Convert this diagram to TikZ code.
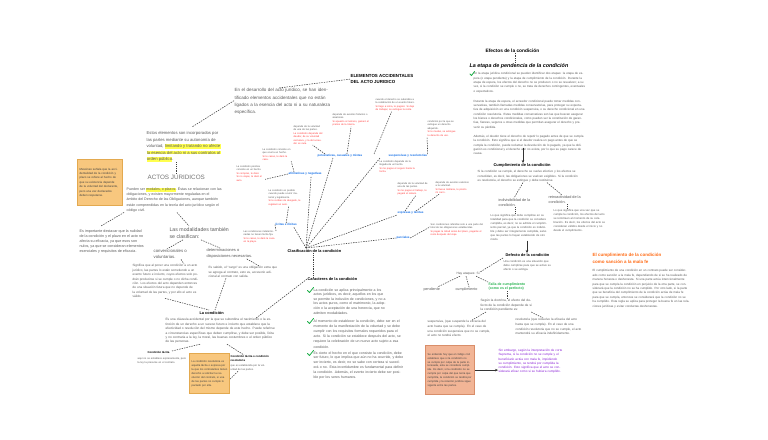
\documentclass[tikz,border=0pt]{standalone}
\usepackage{fontspec}
\setmainfont{Liberation Sans}
\usetikzlibrary{arrows.meta,calc}
\definecolor{txt}{HTML}{5A5A5A}
\definecolor{rd}{HTML}{FF3B3B}
\definecolor{bl}{HTML}{1A73E8}
\definecolor{hly}{HTML}{FFFF4F}
\definecolor{grn}{HTML}{22B14C}
\definecolor{org}{HTML}{FF6A13}
\definecolor{pur}{HTML}{8A1FD6}
\definecolor{note}{HTML}{F8C77E}
\definecolor{noteb}{HTML}{E3A94F}
\definecolor{salm}{HTML}{F2B596}
\definecolor{salmb}{HTML}{D98E6A}
\newcommand\fs[2]{\fontsize{#1}{#2}\selectfont}
\newcommand\hy[1]{{\setlength{\fboxsep}{0.3pt}\colorbox{hly}{#1}}}
\tikzset{
  base/.style={inner sep=0pt, outer sep=0.6pt, anchor=north west, align=left},
  para/.style={base, text=txt},
  sp/.style={base, text=txt, font=\fs{2.5}{3.4}},
  blab/.style={base, text=bl, font=\bfseries\fs{3}{4}},
  head/.style={base, text=black, font=\bfseries\fs{3.9}{5}},
  dl/.style={draw=black!75, line width=0.55pt, dash pattern=on 1.4pt off 1.1pt},
  dt/.style={draw=black!75, line width=0.55pt, dash pattern=on 0.9pt off 0.9pt},
  arr/.style={draw=black!80, line width=0.6pt, -{Stealth[length=3pt,width=2.6pt]}},
  chk/.style={draw=grn, line width=0.8pt, line cap=round, line join=round},
  notebox/.style={base, fill=note, draw=noteb, line width=0.3pt, inner sep=2pt, text=black!75}
}
\begin{document}
\begin{tikzpicture}[x=1pt,y=-1pt]
\fill[white] (0,0) rectangle (768,439);
\useasboundingbox (0,0) rectangle (768,439);

% ---------------- left / top-left ----------------
\node[base, font=\bfseries\fs{4.4}{6}] (elem) at (350,74) {ELEMENTOS ACCIDENTALES\\DEL ACTO JURIDICO};
\node[para, font=\fs{4.5}{7.3}, text width=96] (desa) at (234,88) {En el desarrollo del acto jurídico, se han identificado elementos accidentales que no están ligados a la esencia del acto ni a su naturaleza específica.};
\node[para, font=\fs{4.2}{6.5}] (estos) at (146,131) {Estos elementos son incorporados por\\las partes mediante su autonomía de\\voluntad, \hy{limitando y tratando no afecte}\\\hy{la esencia del acto ni a sus contratos al}\\\hy{orden público}.};
\node[base, text=black!55, font=\fs{6.3}{7}] (actos) at (147,174) {ACTOS JURIDICOS};
\node[notebox, text width=41, minimum height=46, font=\fs{2.9}{4.4}] (nota) at (77,159) {Messineo señala que la accidentalidad de la condición y plazo se refiere al hecho de que su existencia depende de la voluntad del declarante, pero una vez declarados deben respetarse.};
\node[para, font=\fs{3.6}{5.1}] (pueden) at (126,187) {Pueden ser \hy{modales, o plazos}. Éstas se relacionan con las\\obligaciones, y existen mayormente reguladas en el\\ámbito del Derecho de las Obligaciones, aunque también\\están comprendidas en la teoría del acto jurídico según el\\código civil.};
\node[para, font=\fs{3.7}{5.1}] (impo) at (79,229) {Es importante destacar que la nulidad\\de la condición y el plazo en el acto no\\afecta su eficacia, ya que esos son\\nulos, ya que se consideran elementos\\esenciales y requisitos de eficacia.};
\node[para, font=\fs{5.2}{6.8}] (modal) at (169,227) {Las modalidades también\\se clasifican:};
\node[para, font=\fs{4.3}{6}] (conv) at (153,249) {convencionales o\\voluntarias.};
\node[para, font=\fs{4.0}{6}] (deter) at (206,248) {determinaciones o\\disposiciones necesarias.};
\node[para, font=\fs{3.1}{4.4}, text width=68] (sign) at (132,264) {Significa que al poner una condición a un acto jurídico, las partes lo están sometiendo a un evento futuro e incierto, cuyos efectos solo podrán producirse si se cumple o no dicha condición. Los efectos del acto dependen entonces de una situación futura que no depende de la voluntad de las partes, y por ello el acto es válido.};
\node[para, font=\fs{3.1}{4.4}, text width=70] (sabido) at (208,266) {Es sabido, el ``cargo'' es una obligación extra que se agrega al contrato, esto es, accesorio adicional al contrato con salida.};
\node[head] (lacond) at (199,311) {La condición};
\node[para, font=\fs{3.2}{4.4}, text width=110] (lacp) at (165,318) {Es una cláusula accidental por la que se subordina el nacimiento o la extinción de un derecho a un suceso futuro e incierto que establece que la efectividad o resolución del mismo depende de este hecho. Puede referirse a circunstancias específicas que deben cumplirse, y debe ser posible, lícita y no contraria a la ley, la moral, las buenas costumbres o el orden público de las personas.};
\node[base, font=\bfseries\fs{2.8}{3.8}] (tac) at (147,351) {Condición tácita};
\node[para, font=\fs{2.6}{3.6}, text width=50] (tacd) at (137,357) {aquí no se establece expresamente, pero la ley la presume en el contrato.};
\node[notebox, text width=36, minimum height=40, font=\fs{2.7}{4}] (nota2) at (189,353) {La condición resolutoria es aquella tácita o expresa por la que los contratantes tienen derecho a solicitar la resolución del contrato, si una de las partes no cumple lo pactado por ella.};
\node[base, font=\bfseries\fs{2.8}{3.8}] (reso) at (230,355) {Condición tácita o condición\\resolutoria};
\node[para, font=\fs{2.6}{3.6}, text width=36] (resod) at (230,364) {que es establecida por la voluntad de las partes.};

\draw[dl] (elem.west) -- ([xshift=-4]desa.north);
\draw[dl] ([yshift=1]desa.west) -- ([shift={(46,-4)}]estos.north west);
\draw[dt] ([xshift=30]estos.south west) -- ([xshift=29]actos.north west);
\draw[dl] ([shift={(-2,0)}]pueden.south west) -- ([shift={(22,-3)}]impo.north west);
\draw[dl] ([xshift=51]pueden.south west) -- ([shift={(20,-1)}]modal.north west);
\draw[dl] ([shift={(14,1)}]modal.south west) -- ([xshift=14]conv.north west);
\draw[dl] ([shift={(32,1)}]modal.south west) -- ([xshift=14]deter.north west);
\draw[dl] ([xshift=28]conv.south west) -- ([xshift=52]sign.north west);
\draw[dl] ([xshift=-6]deter.south east) -- ([xshift=-20]sabido.north east);
\draw[dl] ([xshift=33]sign.south west) -- ([shift={(10,-1)}]lacond.north west);
\draw[dl] ([xshift=18]sabido.south west) -- ([shift={(16,-1)}]lacond.north west);
\draw[dl] ([xshift=35]lacp.south west) -- ([xshift=25]tac.north west);
\draw[dl] ([xshift=62]lacp.south west) -- ([xshift=14]reso.north west);
\draw[dl] ([xshift=8]resod.south west) -- (nota2.east |- 0,379);

% ---------------- centre: clasificación ----------------
\node[base, font=\bfseries\fs{3.9}{5}] (clas) at (287,249) {Clasificación de la condición};
\coordinate (hub) at (306,248);

\node[blab] (LA) at (288,172) {afirmativas y negativas};
\node[blab] (LB) at (317,154) {potestativas, casuales y mixtas};
\node[blab] (LC) at (388,154) {suspensivas y resolutorias};
\node[blab] (LD) at (275,223) {lícitas e ilícitas};
\node[blab] (LE) at (397,211) {expresas y tácitas};
\node[blab] (LF) at (396,236) {parciales};

\node[sp, text width=30] (PA) at (293,125) {depende de la voluntad de una de las partes.\\\textcolor{rd}{La condición depende del deudor, de su voluntad exclusiva, y la del acreedor es nula.}};
\node[sp, text width=37] (PB) at (332,113) {depende de eventos fortuitos o aleatorios.\\\textcolor{rd}{Si apuesto al número, ganaré el premio de la lotería.}};
\node[sp, text width=40] (PC) at (375,98) {cuando el derecho se subordina a la celebración de un evento futuro.\\\textcolor{rd}{Si llego a Lima, te pagaré. Si dejo de trabajar, se extingue la renta.}};
\node[sp, text width=30] (PC2) at (427,120) {condición por la que se extingue un derecho adquirido.\\\textcolor{rd}{Si te mudas, se extingue tu derecho de uso.}};
\node[sp, text width=36] (PD) at (379,160) {La condición depende de la llegada de un hecho.\\\textcolor{rd}{Si me pagas el seguro hasta la fecha.}};
\node[sp, text width=28] (PE) at (236,165) {La condición positiva consiste en un hecho.\\\textcolor{rd}{Si compras, te daré. Si no viajas, te daré el auto.}};
\node[sp, text width=28] (PF) at (262,148) {La condición consiste en que ocurra un hecho.\\\textcolor{rd}{Si te casas, te daré la casa.}};
\node[sp, text width=32] (PG) at (397,182) {depende de la voluntad de una de las partes.\\\textcolor{rd}{Si me pagas el trabajo, te pagaré el salario.}};
\node[sp, text width=34] (PH) at (435,181) {depende de eventos externos a la voluntad.\\\textcolor{rd}{Si llueve mañana, te presto mi carro.}};
\node[sp, text width=56] (PI) at (430,223) {Son condiciones referidas solo a una parte del total de las obligaciones establecidas.\\\textcolor{rd}{Si pagas la mitad antes del plazo, pagarás el resto después del viaje.}};
\node[sp, text width=32] (PJ) at (268,189) {La condición es posible cuando puede ocurrir material y legalmente.\\\textcolor{rd}{Si te recibes de abogado, te regalaré un auto.}};
\node[sp, text width=32] (PK) at (243,230) {Las condiciones indeterminadas no tienen fecha fija.\\\textcolor{rd}{Si te casas, te daré la casa en la playa.}};

\draw[dl] (hub) -- ([xshift=6]LA.south);
\draw[dl] (hub) -- ([xshift=16]LB.south west);
\draw[dl] (hub) -- ([xshift=-8]LC.south west);
\draw[dl] (hub) -- ([xshift=-4]LD.south east);
\draw[dl] (hub) -- (LE.south west);
\draw[dl] (hub) -- (LF.west);
\draw[dl] (LA.west) -- ([yshift=-6]PE.east);
\draw[dl] ([xshift=6]LA.north west) -- (PF.south east);
\draw[dl] ([xshift=8]LB.north west) -- ([xshift=4]PA.south);
\draw[dl] ([xshift=-16]LB.north east) -- (PB.south);
\draw[dl] ([xshift=-14]LC.north west) -- ([xshift=-4]PC.south);
\draw[dl] (LC.north east) -- (PC2.south west);
\draw[dl] ([xshift=8]LE.north west) -- ([xshift=2]PG.south);
\draw[dl] ([xshift=-8]LE.north east) -- ([xshift=4]PH.south west);
\draw[dl] (LF.east) -- ([yshift=3]PI.west);
\draw[dl] (LD.north) -- ([xshift=4]PJ.south);
\draw[dl] (LD.west) -- ([yshift=-2]PK.north east);

% ---------------- caracteres ----------------
\node[head] (carac) at (307,277) {Caracteres de la condición};
\draw[dt] ([xshift=26]clas.south west) -- ([xshift=6]carac.north west);
\draw[dl] (carac.west) -- ([xshift=-20]lacp.north east);
\node[para, font=\fs{3.5}{4.6}, text width=73] (c1) at (313,288) {La condición se aplica principalmente a los actos jurídicos, es decir, aquellos en los que se permite la inclusión de condiciones, y no a los actos puros, como el matrimonio, la adopción o la aceptación de una herencia, que no admiten modalidades.};
\node[para, font=\fs{3.5}{5.2}, text width=92] (c2) at (313,319) {Al momento de establecer la condición, debe ser en el momento de la manifestación de la voluntad y se debe cumplir con los requisitos formales requeridos para el acto. Si la condición se establece después del acto, se requiere la celebración de un nuevo acto sujeto a esa condición.};
\node[para, font=\fs{3.5}{4.8}, text width=90] (c3) at (313,351) {Es cierto el hecho en el que consiste la condición, debe ser futuro, lo que implica que aún no ha ocurrido, y debe ser incierto, es decir, no se sabe con certeza si sucederá o no. Esta incertidumbre es fundamental para definir la condición. Además, el evento incierto debe ser posible por los seres humanos.};
\draw[chk] (307.5,290.5) -- (309.5,292.5) -- (313.5,287.5);
\draw[chk] (307.5,321.5) -- (309.5,323.5) -- (313.5,318.5);
\draw[chk] (307.5,353.5) -- (309.5,355.5) -- (313.5,350.5);

% ---------------- efectos ----------------
\node[base, font=\bfseries\fs{4.8}{6}] (efec) at (485,48) {Efectos de la condición};
\node[base, font=\bfseries\itshape\fs{5.4}{6.5}] (etapa) at (469,63) {La etapa de pendencia de la condición};
\draw[dt] ([xshift=30]efec.south west) -- ([xshift=46]etapa.north west);
\node[para, font=\fs{3}{4.3}, text width=112] (etp) at (473,72) {En la etapa jurídica condicional se pueden identificar dos etapas: la etapa de espera (o etapa pendiente) y la etapa de cumplimiento de la condición. Durante la etapa de espera, los efectos del derecho no se producen o no se resuelven; a su vez, si la condición se cumple o no, se trata de derechos contingentes, eventuales o expectativos.\par\vspace{6pt}
Durante la etapa de espera, el acreedor condicional puede tomar medidas conservativas, también llamadas medidas conservatorias, para proteger su expectativa de adquisición en una condición suspensiva, o su derecho condicional en una condición resolutoria. Estas medidas conservativas son las que buscan asegurar los bienes o derechos condicionales, como pueden ser la constitución de garantías, fianzas, seguros u otras medidas que permitan asegurar el derecho y prevenir su pérdida.\par\vspace{5pt}
Además, el deudor tiene el derecho de repetir lo pagado antes de que se cumpla la condición. Esto significa que si el deudor realiza un pago antes de que se cumpla la condición, puede reclamar la devolución de lo pagado, ya que la obligación es condicional y el derecho aún no existe, por lo que su pago carece de causa.};
\draw[chk] (470,74) -- (471.5,75.5) -- (474.5,71.5);

\node[base, font=\bfseries\fs{4}{5}] (cump) at (493,163) {Cumplimiento de la condición};
\draw[arr] (523,148) -- ([xshift=30]cump.north west);
\node[para, font=\fs{3}{4.3}, text width=103] (cumpp) at (477,170) {Si la condición se cumple, el derecho se vuelve efectivo y los efectos se consolidan, es decir, las obligaciones se vuelven exigibles. Si la condición es resolutoria, el derecho se extingue y debe restituirse.};
\node[para, font=\fs{3.8}{5.2}] (indiv) at (498,198) {indivisibilidad de la\\condición.};
\node[para, font=\fs{2.8}{3.9}, text width=57] (indp) at (490,214) {Lo que significa que debe cumplirse en su totalidad para que la condición se considere cumplida, es decir, no se admite el cumplimiento parcial, ya que la condición es indivisible y debe ser íntegramente cumplida, salvo que las partes lo hayan establecido de otro modo.};
\node[para, font=\fs{3.8}{5.2}] (retro) at (548,195) {retroactividad de la\\condición.};
\node[para, font=\fs{2.8}{3.9}, text width=52] (retp) at (553,209) {Lo que significa que una vez que se cumple la condición, los efectos del acto se retrotraen al momento de su celebración. Es decir, los efectos del acto se consideran válidos desde el inicio y no desde el cumplimiento.};
\draw[dl] ([xshift=46]cumpp.south west) -- ([xshift=16]indiv.north west);
\draw[dl] ([xshift=70]cumpp.south west) -- ([xshift=14]retro.north west);
\draw[dt] ([xshift=17]indiv.south west) -- ([xshift=25]indp.north west);
\draw[dt] ([xshift=19]retro.south west) -- ([xshift=14]retp.north west);

\node[base, font=\bfseries\fs{3.9}{5}] (defe) at (505,253) {Defecto de la condición};
\draw[arr] ([xshift=37]indp.south west) -- ([xshift=22]defe.north west);
\node[para, font=\fs{2.8}{3.8}, text width=50] (defp) at (503,260) {Una condición es una situación que debe cumplirse para que se active su efecto o se extinga.};
\node[para, font=\fs{3.2}{4}] (hay) at (456,272) {Hay ataques: Si};
\node[para, font=\fs{3.7}{4.5}] (pend) at (423,287) {pendiente};
\node[para, font=\fs{3.7}{4.5}] (cumpl) at (455,287) {cumplimiento};
\node[base, text=grn, font=\bfseries\fs{3.5}{4.6}] (falla) at (488,282) {Falla de cumplimiento\\(como es el perfecto)};
\node[para, font=\fs{3.2}{4.4}, text width=54] (segun) at (480,299) {Según la doctrina, el efecto del defecto de la condición depende de si la condición pendiente es:};
\node[para, font=\fs{3.1}{4.6}, text width=64] (susp) at (427,320) {suspensiva, (que suspende la eficacia del acto hasta que se cumpla). En el caso de una condición suspensiva que no se cumple, el acto no tendrá efecto.};
\node[para, font=\fs{3.1}{4.6}, text width=66] (resol) at (515,318) {resolutoria (que resuelve la eficacia del acto hasta que se cumpla). En el caso de una condición resolutoria que no se cumple, el acto mantendrá su eficacia indefinidamente.};
\draw[dl] ([yshift=2]defp.north west) -- (hay.north east);
\draw[dl] ([xshift=4]hay.south west) -- ([xshift=-3]pend.north east);
\draw[dl] ([xshift=10]hay.south west) -- ([xshift=14]cumpl.north west);
\draw[dl] ([xshift=-4]hay.south east) -- (falla.north west);
\draw[dt] ([xshift=19]falla.south west) -- ([xshift=27]segun.north west);
\draw[dl] ([xshift=6]segun.south west) -- ([xshift=-20]susp.north east);
\draw[dl] ([xshift=-4]segun.south east) -- ([xshift=28]resol.north west);

\node[base, fill=salm, draw=salmb, line width=0.3pt, inner sep=2pt, text width=45, minimum height=49, font=\fs{2.7}{3.9}, text=black!75] (salb) at (425,345) {Se entiende hoy que el código civil establece que si la condición no se cumple por culpa de la parte interesada, esta se considera cumplida. Es decir, si la condición no se cumple por culpa del que tenía que cumplirla, la condición se tendrá por cumplida y la relación jurídica sigue vigente entre las partes.};
\node[base, text=pur, font=\fs{3.1}{4.1}, text width=64] (purp) at (498,349) {Sin embargo, según la interpretación de corte Suprema, si la condición no se cumple y el beneficiario actúa con mala fe, impidiendo su cumplimiento, se tendrá por cumplida la condición. Esto significa que el acto se considerará eficaz como si se hubiera cumplido.};
\draw[arr] (salb.east) -- (purp.west |- salb.east);

\node[base, text=org, font=\bfseries\fs{4.5}{6.4}] (orgh) at (592,253) {El cumplimiento de la condición\\como sanción a la mala fe};
\node[para, font=\fs{3}{4.4}, text width=97] (orgp) at (592,269) {El cumplimiento de una condición en un contrato puede ser considerado como sanción a la mala fe, dependiendo de si se ha realizado de manera honesta o deshonesta. Si una parte actúa intencionalmente para que se cumpla la condición en perjuicio de la otra parte, se considerará que la condición no se ha cumplido. Por otro lado, si la parte que se beneficia del cumplimiento de la condición actúa de mala fe para que se cumpla, entonces se considerará que la condición no se ha cumplido. Esta regla se aplica para proteger la buena fe en las relaciones jurídicas y evitar conductas deshonestas.};
\end{tikzpicture}
\end{document}
